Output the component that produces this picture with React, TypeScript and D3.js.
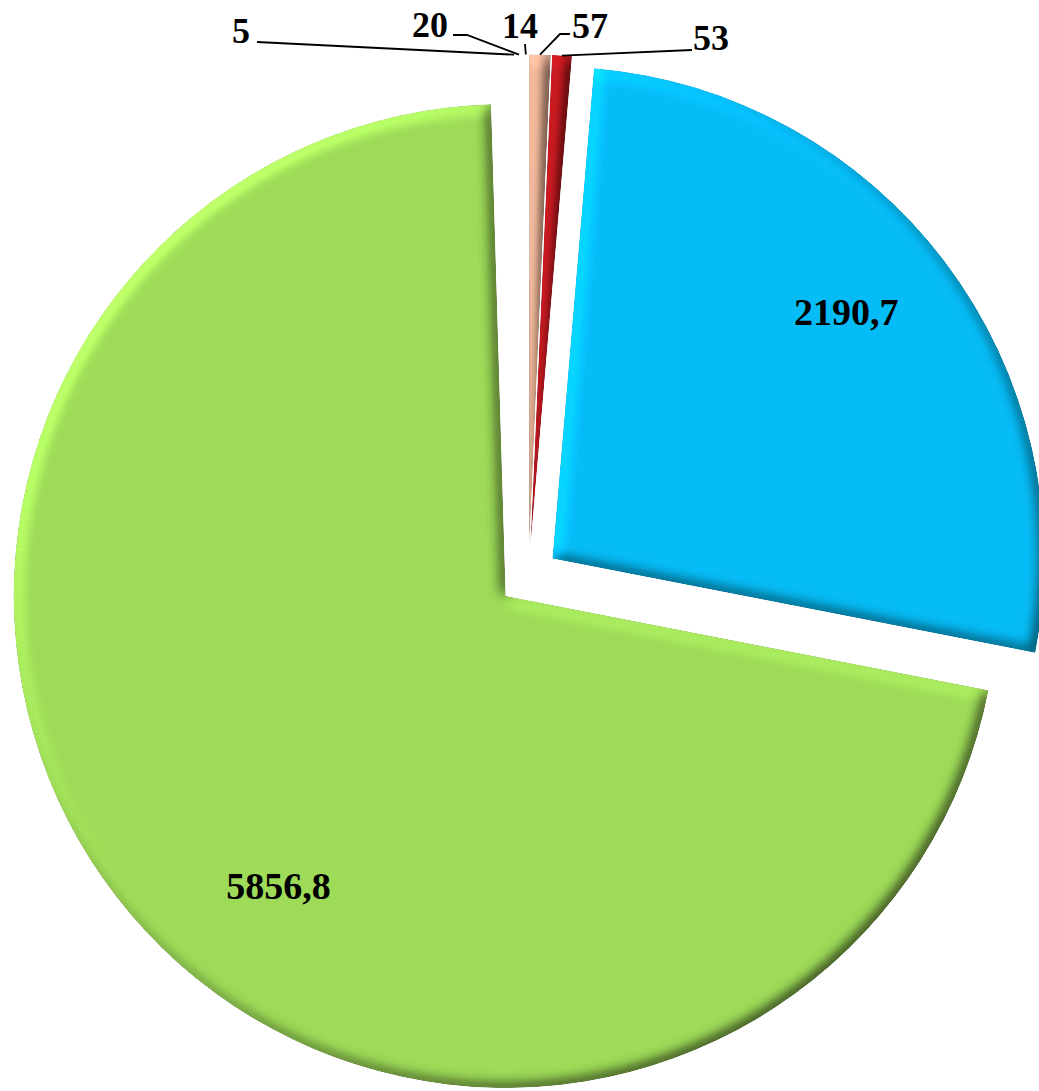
import React, { useEffect, useRef } from 'react';
import * as d3 from 'd3';

// slice values, in drawing order (clockwise from the top)
const labels: string[] = ['5', '20', '14', '57', '53', '2190,7', '5856,8'];
const values: number[] = [5, 20, 14, 57, 53, 2190.7, 5856.8];
const colors: string[] = ['none', 'none', 'none', '#D9A68B', '#B3171D', '#06BCF6', '#9EDB58'];

// labels outside the pie (by slice index), with leader lines
const outsideIdx = [0, 1, 2, 3, 4];
const outsideText: [number, number][] = [[241, 43], [430, 37], [520, 38], [590, 38], [711, 50]];
const leaderStart: [number, number][] = [[257, 42], [453, 35], [525, 44], [570, 34], [692, 50]];
const leaderElbow: ([number, number] | null)[] = [null, [467, 35], null, [560, 34], null];

// labels inside the pie: [fraction of slice angle, fraction of radius]
const insideIdx = [5, 6];
const insidePolar: [number, number][] = [[0.469, 0.78], [0.455, 0.748]];

const W = 1039;
const H = 1091;
const R = 492;
const EXPLODE = 30;
const CX = 528.5;
const CY = 576.5;
const START = (-1.7 * Math.PI) / 180;
const ELEV = 55;

export default function App() {
  const ref = useRef<SVGSVGElement>(null);

  useEffect(() => {
    draw();
  }, []);

  function draw() {
    const svg = d3.select(ref.current);
    svg.selectAll('*').remove();

    // soft bevel: blurred alpha as a height map, lit from the top left, multiplied in
    const filter = svg.append('defs').append('filter')
      .attr('id', 'bevel')
      .attr('x', '-5%').attr('y', '-5%')
      .attr('width', '110%').attr('height', '110%')
      .attr('color-interpolation-filters', 'sRGB');
    filter.append('feGaussianBlur')
      .attr('in', 'SourceAlpha').attr('stdDeviation', 7).attr('result', 'blur');
    filter.append('feDiffuseLighting')
      .attr('in', 'blur').attr('surfaceScale', 5).attr('diffuseConstant', 1)
      .attr('lighting-color', '#fff').attr('result', 'light')
      .append('feDistantLight').attr('azimuth', 225).attr('elevation', ELEV);
    filter.append('feComposite')
      .attr('in', 'SourceGraphic').attr('in2', 'light')
      .attr('operator', 'arithmetic')
      .attr('k1', 1 / Math.sin((ELEV * Math.PI) / 180)).attr('k2', 0).attr('k3', 0).attr('k4', 0)
      .attr('result', 'lit');
    filter.append('feComposite')
      .attr('in', 'lit').attr('in2', 'SourceAlpha').attr('operator', 'in');

    const pie = d3.pie<number>()
      .sort(null)
      .value((d) => d)
      .startAngle(START)
      .endAngle(START + 2 * Math.PI);
    const arcs = pie(values);

    const arc = d3.arc<d3.PieArcDatum<number>>()
      .innerRadius(0)
      .outerRadius(R);

    const mid = (d: d3.PieArcDatum<number>) => (d.startAngle + d.endAngle) / 2;
    const centerOf = (d: d3.PieArcDatum<number>): [number, number] => {
      const m = mid(d);
      return [CX + EXPLODE * Math.sin(m), CY - EXPLODE * Math.cos(m)];
    };

    svg.append('g')
      .selectAll('g.slice')
      .data(arcs)
      .enter()
      .append('g')
      .attr('class', 'slice')
      .attr('transform', (d) => `translate(${centerOf(d)})`)
      .append('path')
      .attr('d', arc)
      .attr('fill', (d, i) => colors[i])
      .attr('filter', (d, i) => (colors[i] === 'none' ? null : 'url(#bevel)'));

    const font = "'Liberation Serif', 'Times New Roman', serif";

    // leader lines + outside labels
    const line = d3.line();
    outsideIdx.forEach((idx, k) => {
      const d = arcs[idx];
      const [cx, cy] = centerOf(d);
      const m = mid(d);
      const anchor: [number, number] = [cx + R * Math.sin(m), cy - R * Math.cos(m)];
      const pts: [number, number][] = [leaderStart[k]];
      if (leaderElbow[k]) pts.push(leaderElbow[k]!);
      pts.push(anchor);
      svg.append('path')
        .attr('d', line(pts))
        .attr('fill', 'none')
        .attr('stroke', '#000')
        .attr('stroke-width', 1.8);
      svg.append('text')
        .attr('x', outsideText[k][0])
        .attr('y', outsideText[k][1])
        .attr('text-anchor', 'middle')
        .style('font-family', font)
        .style('font-weight', 'bold')
        .style('font-size', '36px')
        .text(labels[idx]);
    });

    // inside labels
    insideIdx.forEach((idx, k) => {
      const d = arcs[idx];
      const [cx, cy] = centerOf(d);
      const a = d.startAngle + (d.endAngle - d.startAngle) * insidePolar[k][0];
      const r = R * insidePolar[k][1];
      svg.append('text')
        .attr('x', cx + r * Math.sin(a))
        .attr('y', cy - r * Math.cos(a))
        .attr('dy', '0.35em')
        .attr('text-anchor', 'middle')
        .style('font-family', font)
        .style('font-weight', 'bold')
        .style('font-size', '38px')
        .text(labels[idx]);
    });
  }

  return (
    <svg
      ref={ref}
      width={W}
      height={H}
      viewBox={`0 0 ${W} ${H}`}
      style={{ position: 'absolute', left: 0, top: 0, background: '#fff' }}
    />
  );
}
